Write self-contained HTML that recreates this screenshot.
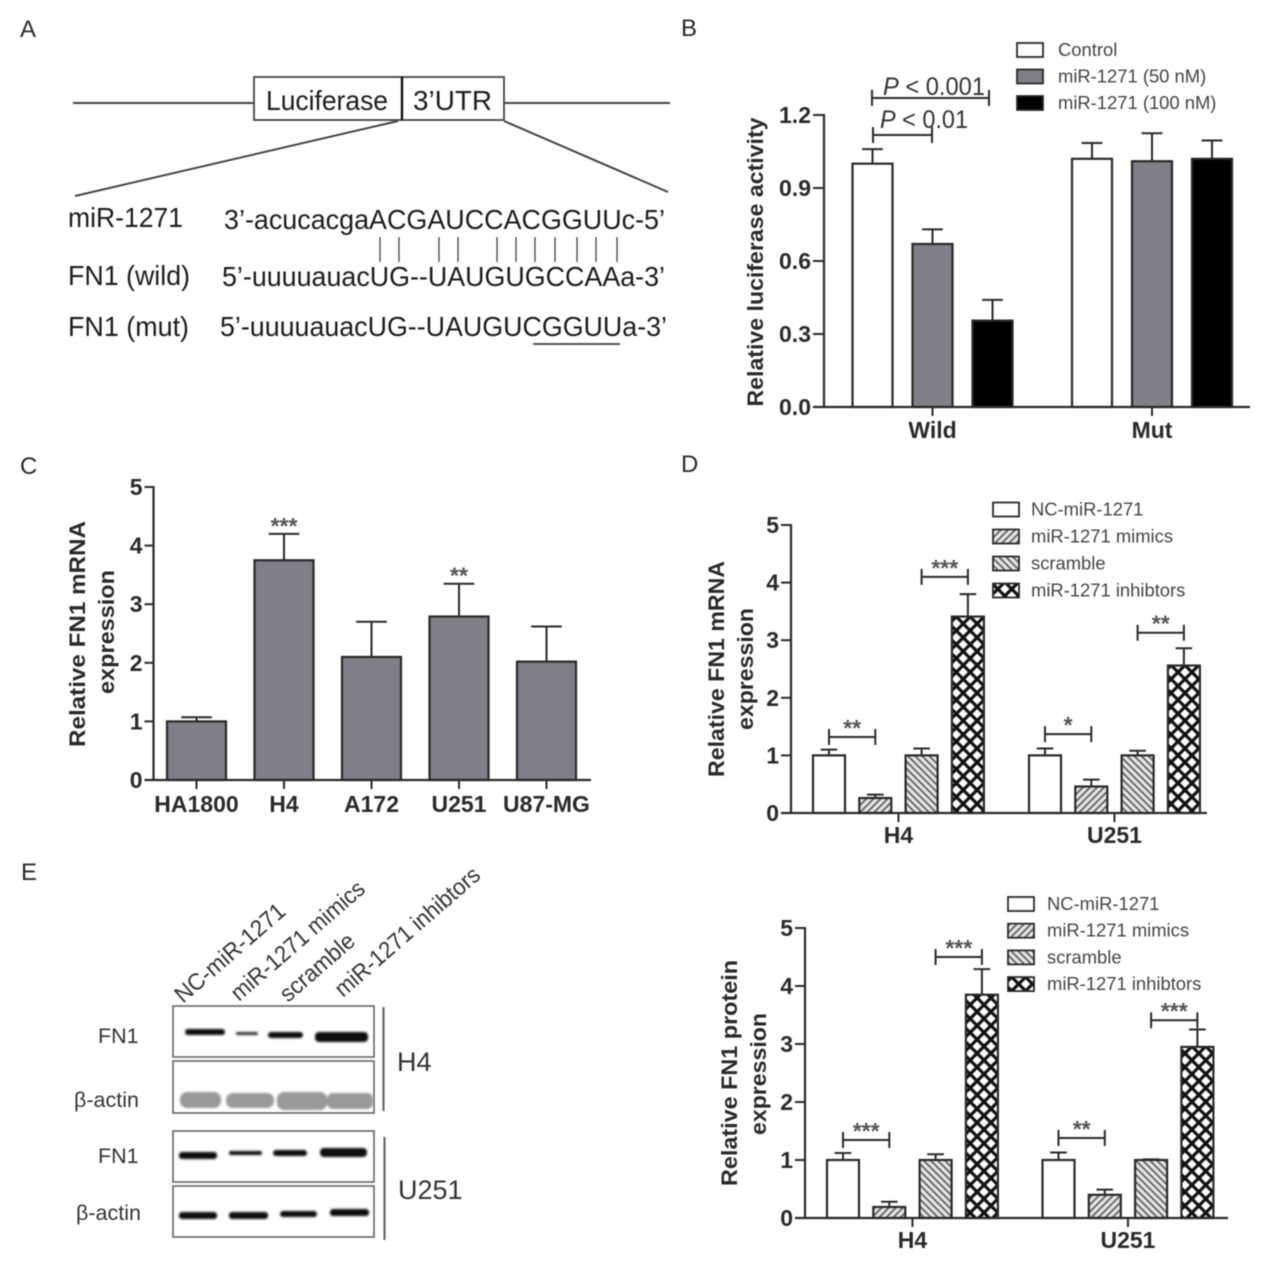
<!DOCTYPE html>
<html lang="en">
<head>
<meta charset="utf-8">
<title>FN1 miR-1271 figure</title>
<style>
html,body{margin:0;padding:0;background:#fff;width:1279px;height:1264px;overflow:hidden}
svg{display:block;font-family:"Liberation Sans",Arial,sans-serif;filter:blur(.6px)}
.dark{fill:#2a2a2a}
.lab{fill:#1c1c1c;font-size:27.5px}
.lane{fill:#333;font-size:23.5px}
.bold{font-weight:bold;fill:#333}
.leg{fill:#444;font-size:18.4px}
</style>
</head>
<body>
<svg id="fig" xmlns="http://www.w3.org/2000/svg" width="1279" height="1264" viewBox="0 0 1279 1264">
<defs>
<pattern id="p-fwd" patternUnits="userSpaceOnUse" width="5" height="5" patternTransform="rotate(-45)"><rect width="5" height="5" fill="#e4e4e4"/><line x1="0" y1="2.5" x2="5" y2="2.5" stroke="#555" stroke-width="1.6"/></pattern>
<pattern id="p-back" patternUnits="userSpaceOnUse" width="5" height="5" patternTransform="rotate(45)"><rect width="5" height="5" fill="#e4e4e4"/><line x1="0" y1="2.5" x2="5" y2="2.5" stroke="#555" stroke-width="1.6"/></pattern>
<pattern id="p-cross" patternUnits="userSpaceOnUse" width="9.8" height="9.8" patternTransform="rotate(45)"><rect width="9.8" height="9.8" fill="#fff"/><path d="M0 4.9H9.8M4.9 0V9.8" stroke="#111" stroke-width="3.2" fill="none"/></pattern>
<filter id="soft" x="-20%" y="-100%" width="140%" height="300%"><feGaussianBlur stdDeviation="1.1"/></filter>
</defs>

<!-- Panel letters -->
<g class="dark" font-size="24">
<text x="20" y="37">A</text>
<text x="681" y="36">B</text>
<text x="20" y="474">C</text>
<text x="681" y="472">D</text>
<text x="21" y="880">E</text>
</g>

<!-- Panel A -->
<g stroke="#444" fill="none">
<line x1="73" y1="103" x2="254" y2="103" stroke-width="2"/>
<line x1="504" y1="103" x2="670" y2="103" stroke-width="2"/>
<rect x="254" y="77" width="148" height="43" stroke-width="1.8" fill="#fff"/>
<rect x="402" y="77" width="102" height="43" stroke-width="1.8" fill="#fff"/>
<line x1="402" y1="77" x2="402" y2="120" stroke="#111" stroke-width="2.4"/>
<line x1="398" y1="121" x2="75" y2="196" stroke-width="2"/>
<line x1="504" y1="121" x2="668" y2="192" stroke-width="2"/>
</g>
<text class="lab" x="266" y="110" textLength="122" lengthAdjust="spacingAndGlyphs">Luciferase</text>
<text class="lab" x="413" y="110" textLength="79" lengthAdjust="spacingAndGlyphs">3’UTR</text>
<text class="lab" x="68" y="227" textLength="115" lengthAdjust="spacingAndGlyphs">miR-1271</text>
<text class="lab" x="68" y="285" textLength="122" lengthAdjust="spacingAndGlyphs">FN1 (wild)</text>
<text class="lab" x="68" y="336" textLength="121" lengthAdjust="spacingAndGlyphs">FN1 (mut)</text>
<text class="lab" x="224" y="229" textLength="441" lengthAdjust="spacingAndGlyphs">3’-acucacgaACGAUCCACGGUUc-5’</text>
<text class="lab" x="222" y="286" textLength="443" lengthAdjust="spacingAndGlyphs">5’-uuuuauacUG--UAUGUGCCAAa-3’</text>
<text class="lab" x="220" y="336" textLength="447" lengthAdjust="spacingAndGlyphs">5’-uuuuauacUG--UAUGUCGGUUa-3’</text>
<g stroke="#444" stroke-width="1.3">
<line x1="380" y1="237" x2="380" y2="262"/><line x1="399" y1="237" x2="399" y2="262"/>
<line x1="439" y1="237" x2="439" y2="262"/><line x1="458" y1="237" x2="458" y2="262"/>
<line x1="497" y1="237" x2="497" y2="262"/><line x1="516" y1="237" x2="516" y2="262"/>
<line x1="535" y1="237" x2="535" y2="262"/><line x1="555" y1="237" x2="555" y2="262"/>
<line x1="577" y1="237" x2="577" y2="262"/><line x1="596" y1="237" x2="596" y2="262"/>
<line x1="617" y1="237" x2="617" y2="262"/>
</g>
<line x1="533" y1="344" x2="620" y2="344" stroke="#555" stroke-width="2"/>

<!-- Panel E blots -->
<g>
<text class="lane" transform="translate(183,1004) rotate(-41)" textLength="138" lengthAdjust="spacingAndGlyphs">NC-miR-1271</text>
<text class="lane" transform="translate(239,1002) rotate(-41)" textLength="169" lengthAdjust="spacingAndGlyphs">miR-1271 mimics</text>
<text class="lane" transform="translate(288,1003) rotate(-41)" textLength="91" lengthAdjust="spacingAndGlyphs">scramble</text>
<text class="lane" transform="translate(343,998) rotate(-41)" textLength="184" lengthAdjust="spacingAndGlyphs">miR-1271 inhibtors</text>

<g fill="#fff" stroke="#666" stroke-width="1.6">
<rect x="173" y="1006" width="201" height="51"/>
<rect x="173" y="1061" width="201" height="52"/>
<rect x="173" y="1131" width="201" height="51"/>
<rect x="173" y="1186" width="201" height="51"/>
</g>
<g fill="#0c0c0c" filter="url(#soft)">
<rect x="185" y="1029" width="40" height="6" rx="3"/><rect x="236" y="1032" width="22" height="3" rx="1.5" fill="#333"/>
<rect x="268" y="1032" width="35" height="6" rx="3"/><rect x="315" y="1032" width="53" height="10" rx="4"/>
</g>
<g fill="#999" filter="url(#soft)">
<rect x="180" y="1092" width="41" height="16" rx="7"/><rect x="226" y="1093" width="48" height="15" rx="7"/>
<rect x="277" y="1092" width="50" height="18" rx="7"/><rect x="327" y="1093" width="46" height="16" rx="6"/>
</g>
<g fill="#0c0c0c" filter="url(#soft)">
<rect x="179" y="1152" width="38" height="7" rx="3"/><rect x="229" y="1151" width="33" height="4" rx="2"/>
<rect x="273" y="1150" width="34" height="6" rx="3"/><rect x="320" y="1148" width="47" height="9" rx="4"/>
</g>
<g fill="#0c0c0c" filter="url(#soft)">
<rect x="179" y="1212" width="38" height="7" rx="3"/><rect x="229" y="1212" width="39" height="7" rx="3"/>
<rect x="280" y="1211" width="37" height="6" rx="3"/><rect x="330" y="1209" width="39" height="7" rx="3"/>
</g>
<line x1="383.500" y1="1007" x2="383.500" y2="1111" stroke="#666" stroke-width="2.2"/>
<line x1="384.500" y1="1137" x2="384.500" y2="1240" stroke="#666" stroke-width="2.2"/>
<text class="lab" x="98" y="1043" style="font-size:21.5px;fill:#333">FN1</text>
<text class="lab" x="74" y="1107" style="font-size:21.5px;fill:#333">β-actin</text>
<text class="lab" x="98" y="1163" style="font-size:21.5px;fill:#333">FN1</text>
<text class="lab" x="76" y="1220" style="font-size:21.5px;fill:#333">β-actin</text>
<text class="lab" x="397" y="1071" style="font-size:27px;fill:#333">H4</text>
<text class="lab" x="398" y="1199" style="font-size:27px;fill:#333">U251</text>
</g>
</svg>

<script>
// ---- Chart data ----
var bCategories = ['Wild', 'Mut'];
var bSeriesNames = ['Control', 'miR-1271 (50 nM)', 'miR-1271 (100 nM)'];
var bControl = [1.0, 1.02];
var bControlErr = [0.06, 0.065];
var bMir50 = [0.67, 1.01];
var bMir50Err = [0.06, 0.115];
var bMir100 = [0.355, 1.02];
var bMir100Err = [0.085, 0.075];
var bTickLabels = ['0.0', '0.3', '0.6', '0.9', '1.2'];

var cCategories = ['HA1800', 'H4', 'A172', 'U251', 'U87-MG'];
var cValues = [1.0, 3.75, 2.1, 2.79, 2.02];
var cErrors = [0.07, 0.45, 0.6, 0.56, 0.6];
var cStars = ['', '***', '', '**', ''];
var cTickLabels = ['0', '1', '2', '3', '4', '5'];

var groupNames = ['NC-miR-1271', 'miR-1271 mimics', 'scramble', 'miR-1271 inhibtors'];
var dCategories = ['H4', 'U251'];
var dNc = [1.0, 1.0];
var dNcErr = [0.1, 0.12];
var dMimics = [0.26, 0.46];
var dMimicsErr = [0.06, 0.12];
var dScramble = [1.0, 1.0];
var dScrambleErr = [0.12, 0.08];
var dInhibitors = [3.41, 2.56];
var dInhibitorsErr = [0.39, 0.3];
var dTickLabels = ['0', '1', '2', '3', '4', '5'];
var dBracketFrom = [0, 3, 4, 7];
var dBracketLevel = [1.32, 4.1, 1.37, 3.13];
var dBracketStars = ['**', '***', '*', '**'];

var eCategories = ['H4', 'U251'];
var eNc = [1.0, 1.0];
var eNcErr = [0.12, 0.13];
var eMimics = [0.19, 0.4];
var eMimicsErr = [0.09, 0.09];
var eScramble = [1.0, 1.0];
var eScrambleErr = [0.1, 0.01];
var eInhibitors = [3.85, 2.95];
var eInhibitorsErr = [0.44, 0.3];
var eTickLabels = ['0', '1', '2', '3', '4', '5'];
var eBracketFrom = [0, 3, 4, 7];
var eBracketLevel = [1.345, 4.5, 1.38, 3.41];
var eBracketStars = ['***', '***', '**', '***'];

// ---- Drawing ----
var NS = 'http://www.w3.org/2000/svg';
var fig = document.getElementById('fig');
var INK = '#2a2a2a';

function mk(tag, attrs, parent, name) {
  var el = document.createElementNS(NS, tag);
  for (var k in attrs) el.setAttribute(k, attrs[k]);
  
  
  parent.appendChild(el);
  return el;
}
function txt(str, attrs, parent, name) {
  var el = mk('text', attrs, parent, name);
  el.textContent = str;
  return el;
}

function drawChart(o) {
  var g = mk('g', {}, fig, o.key + '-chart');
  var yScale = function (v) { return o.y0 - (v / o.yMax) * (o.y0 - o.yTop); };
  var barLeft = function (group, s) { return o.first + group * o.groupStep + s * o.barStep; };

  // bars and error bars
  o.series.forEach(function (s, si) {
    s.values.forEach(function (v, gi) {
      var x = barLeft(gi, si), y = yScale(v), cx = x + o.barW / 2;
      var topY = yScale(v + s.errors[gi]);
      var cap = o.barW * 0.26;
      mk('line', {x1: cx, y1: y, x2: cx, y2: topY, stroke: INK, 'stroke-width': 2}, g, o.key + '-error-stem');
      mk('line', {x1: cx - cap, y1: topY, x2: cx + cap, y2: topY, stroke: INK, 'stroke-width': 2}, g, o.key + '-error-cap');
      mk('rect', {x: x, y: y, width: o.barW, height: o.y0 - y, fill: s.fill, stroke: INK, 'stroke-width': 2.2}, g, o.key + '-bar');
      if (s.stars && s.stars[gi]) {
        txt(s.stars[gi], {x: cx, y: topY, 'text-anchor': 'middle', 'font-size': 23, 'font-weight': 'bold', fill: '#555'}, g, o.key + '-significance');
      }
    });
  });

  // axes
  mk('line', {x1: o.axisX, y1: o.yTop - 1, x2: o.axisX, y2: o.y0 + 1, stroke: INK, 'stroke-width': 2.2}, g, o.key + '-y-axis');
  mk('line', {x1: o.axisX - o.tick, y1: o.y0, x2: o.xEnd, y2: o.y0, stroke: INK, 'stroke-width': 2.2}, g, o.key + '-x-axis');
  o.tickLabels.forEach(function (lab) {
    var y = yScale(parseFloat(lab));
    mk('line', {x1: o.axisX - o.tick, y1: y, x2: o.axisX, y2: y, stroke: INK, 'stroke-width': 2}, g, o.key + '-y-tick');
    txt(lab, {x: o.axisX - o.tick - 2, y: y + 8, 'text-anchor': 'end', 'font-size': 23, 'font-weight': 'bold', fill: '#2a2a2a'}, g, o.key + '-y-tick-label');
  });
  o.categories.forEach(function (cat, gi) {
    var n = o.series.length;
    var cx = o.single ? barLeft(gi, 0) + o.barW / 2 : barLeft(gi, 0) + ((n - 1) * o.barStep + o.barW) / 2;
    mk('line', {x1: cx, y1: o.y0, x2: cx, y2: o.y0 + 9, stroke: INK, 'stroke-width': 2}, g, o.key + '-x-tick');
    txt(cat, {x: cx, y: o.labelY, 'text-anchor': 'middle', 'font-size': 23, 'font-weight': 'bold', fill: '#2a2a2a'}, g, o.key + '-x-label');
  });

  // brackets
  if (o.bracketFrom) {
    o.bracketFrom.forEach(function (idx, i) {
      var n = o.series.length;
      var gi = Math.floor(idx / n), si = idx % n;
      var a = barLeft(gi, si) + o.barW / 2;
      var b = a + o.barStep * (si === 3 ? 0 : 1);
      if (si === 3) { a = barLeft(gi, 2) + o.barW / 2; b = barLeft(gi, 3) + o.barW / 2; }
      var y = yScale(o.bracketLevel[i]);
      mk('path', {d: 'M' + a + ' ' + (y - 8) + 'V' + (y + 8) + 'M' + a + ' ' + y + 'H' + b + 'M' + b + ' ' + (y - 8) + 'V' + (y + 8), stroke: INK, 'stroke-width': 2, fill: 'none'}, g, o.key + '-bracket');
      txt(o.bracketStars[i], {x: (a + b) / 2, y: y - 1, 'text-anchor': 'middle', 'font-size': 23, 'font-weight': 'bold', fill: '#555'}, g, o.key + '-significance');
    });
  }

  // legend
  if (o.legendX) {
    o.series.forEach(function (s, si) {
      if (!s.name) return;
      var cy = o.legendY + si * o.legendStep;
      mk('rect', {x: o.legendX, y: cy - 7, width: 26, height: 14, fill: s.fill, stroke: INK, 'stroke-width': 1.8}, g, o.key + '-legend-swatch');
      txt(s.name, {x: o.legendX + o.legendGap, y: cy + 6, 'class': 'leg'}, g, o.key + '-legend-entry');
    });
  }

  // y title
  o.title.forEach(function (t) {
    txt(t.s, {transform: 'translate(' + t.x + ',' + t.cy + ') rotate(-90)', 'text-anchor': 'middle', 'font-size': 22, 'font-weight': 'bold', fill: '#2a2a2a', textLength: t.len, lengthAdjust: 'spacingAndGlyphs'}, g, o.key + '-y-axis-title');
  });
}

var HATCH = ['#fff', 'url(#p-fwd)', 'url(#p-back)', 'url(#p-cross)'];

drawChart({
  key: 'luciferase', axisX: 824, y0: 407, yTop: 115, yMax: 1.2, tick: 11, xEnd: 1250,
  first: 852.5, barStep: 60, groupStep: 219.5, barW: 40, labelY: 438, categories: bCategories, tickLabels: bTickLabels,
  series: [
    {name: bSeriesNames[0], values: bControl, errors: bControlErr, fill: '#fff'},
    {name: bSeriesNames[1], values: bMir50, errors: bMir50Err, fill: '#7f7f87'},
    {name: bSeriesNames[2], values: bMir100, errors: bMir100Err, fill: '#000'}
  ],
  legendX: 1017, legendY: 50, legendStep: 26.500, legendGap: 41,
  title: [{s: 'Relative luciferase activity', x: 763, cy: 262, len: 289}]
});

drawChart({
  key: 'cell-line', axisX: 153.5, y0: 780, yTop: 487, yMax: 5, tick: 9, xEnd: 591, single: true,
  first: 167, barStep: 0, groupStep: 87.5, barW: 59, labelY: 812, categories: cCategories, tickLabels: cTickLabels,
  series: [{values: cValues, errors: cErrors, stars: cStars, fill: '#7f7f87'}],
  title: [{s: 'Relative FN1 mRNA', x: 85, cy: 634, len: 226}, {s: 'expression', x: 114, cy: 632, len: 124}]
});

drawChart({
  key: 'mrna', axisX: 791, y0: 813, yTop: 525, yMax: 5, tick: 10, xEnd: 1207,
  first: 813, barStep: 46.3, groupStep: 216, barW: 32, labelY: 843, categories: dCategories, tickLabels: dTickLabels,
  series: [
    {name: groupNames[0], values: dNc, errors: dNcErr, fill: HATCH[0]},
    {name: groupNames[1], values: dMimics, errors: dMimicsErr, fill: HATCH[1]},
    {name: groupNames[2], values: dScramble, errors: dScrambleErr, fill: HATCH[2]},
    {name: groupNames[3], values: dInhibitors, errors: dInhibitorsErr, fill: HATCH[3]}
  ],
  bracketFrom: dBracketFrom, bracketLevel: dBracketLevel, bracketStars: dBracketStars,
  legendX: 993, legendY: 509.500, legendStep: 27, legendGap: 38,
  title: [{s: 'Relative FN1 mRNA', x: 724, cy: 669, len: 216}, {s: 'expression', x: 753, cy: 669, len: 122}]
});

drawChart({
  key: 'protein', axisX: 805, y0: 1218, yTop: 928, yMax: 5, tick: 10, xEnd: 1228,
  first: 827, barStep: 46.3, groupStep: 215.5, barW: 32, labelY: 1248, categories: eCategories, tickLabels: eTickLabels,
  series: [
    {name: groupNames[0], values: eNc, errors: eNcErr, fill: HATCH[0]},
    {name: groupNames[1], values: eMimics, errors: eMimicsErr, fill: HATCH[1]},
    {name: groupNames[2], values: eScramble, errors: eScrambleErr, fill: HATCH[2]},
    {name: groupNames[3], values: eInhibitors, errors: eInhibitorsErr, fill: HATCH[3]}
  ],
  bracketFrom: eBracketFrom, bracketLevel: eBracketLevel, bracketStars: eBracketStars,
  legendX: 1008, legendY: 904, legendStep: 26.700, legendGap: 39,
  title: [{s: 'Relative FN1 protein', x: 737, cy: 1073, len: 226}, {s: 'expression', x: 766, cy: 1074, len: 122}]
});

// P-value annotations on the luciferase chart
var pGroup = document.createElementNS(NS, 'g');


fig.appendChild(pGroup);
[[872, 989, 98, 'P', ' < 0.001', 883, 95, 102], [873, 932, 135, 'P', ' < 0.01', 880, 128, 88]].forEach(function (p) {
  var path = document.createElementNS(NS, 'path');
  path.setAttribute('d', 'M' + p[0] + ' ' + (p[2] - 8) + 'V' + (p[2] + 8) + 'M' + p[0] + ' ' + p[2] + 'H' + p[1] + 'M' + p[1] + ' ' + (p[2] - 8) + 'V' + (p[2] + 8));
  path.setAttribute('stroke', INK);
  path.setAttribute('stroke-width', '2');
  path.setAttribute('fill', 'none');
  
  
  pGroup.appendChild(path);
  var t = document.createElementNS(NS, 'text');
  t.setAttribute('x', p[5]);
  t.setAttribute('y', p[6]);
  t.setAttribute('font-size', '25');
  t.setAttribute('fill', '#333');
  t.setAttribute('textLength', p[7]);
  t.setAttribute('lengthAdjust', 'spacingAndGlyphs');
  
  
  var it = document.createElementNS(NS, 'tspan');
  it.setAttribute('font-style', 'italic');
  it.textContent = p[3];
  t.appendChild(it);
  t.appendChild(document.createTextNode(p[4]));
  pGroup.appendChild(t);
});
</script>
</body>
</html>
